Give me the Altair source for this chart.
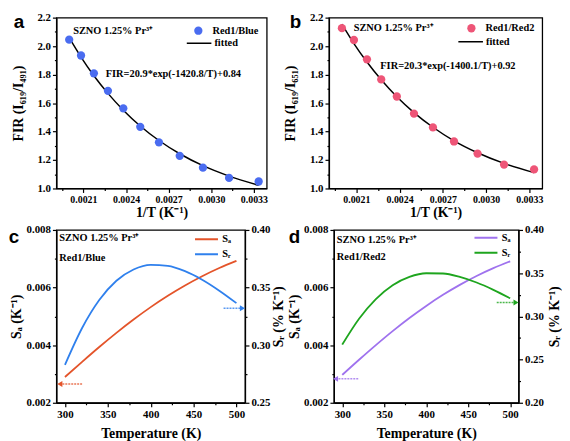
import altair as alt
import pandas as pd

# ---------------- data ----------------
temps = [300, 320, 340, 360, 380, 400, 420, 440, 460, 480, 500]

fir_red1_blue = [1.049, 1.074, 1.146, 1.229, 1.324, 1.433, 1.563, 1.686, 1.809, 1.934, 2.045]
fit_red1_blue = [1.023, 1.087, 1.160, 1.244, 1.337, 1.439, 1.550, 1.668, 1.792, 1.923, 2.059]
fir_red1_red2 = [1.134, 1.168, 1.245, 1.330, 1.429, 1.526, 1.646, 1.766, 1.907, 2.043, 2.126]
fit_red1_red2 = [1.111, 1.176, 1.251, 1.335, 1.430, 1.533, 1.644, 1.763, 1.888, 2.018, 2.154]

sa_red1_blue = [0.002895, 0.003421, 0.003935, 0.004427, 0.004890, 0.005321,
                0.005715, 0.006073, 0.006394, 0.006679, 0.006929]
sr_red1_blue = [0.2829, 0.3149, 0.3392, 0.3559, 0.3657, 0.3697,
                0.3688, 0.3642, 0.3568, 0.3473, 0.3365]
sa_red1_red2 = [0.002969, 0.003493, 0.004002, 0.004488, 0.004943, 0.005363,
                0.005747, 0.006093, 0.006402, 0.006674, 0.006912]
sr_red1_red2 = [0.2673, 0.2972, 0.3200, 0.3361, 0.3457, 0.3499,
                0.3496, 0.3457, 0.3392, 0.3307, 0.3209]

# tick values (major + minor)
inv_ticks = [0.00195, 0.0021, 0.00225, 0.0024, 0.00255, 0.0027, 0.00285, 0.0030, 0.00315, 0.0033]
fir_ticks = [1.0, 1.1, 1.2, 1.3, 1.4, 1.5, 1.6, 1.7, 1.8, 1.9, 2.0, 2.1, 2.2]
temp_ticks = [300, 325, 350, 375, 400, 425, 450, 475, 500]
sa_ticks = [0.002, 0.003, 0.004, 0.005, 0.006, 0.007, 0.008]
sr_ticks_c = [0.25, 0.275, 0.30, 0.325, 0.35, 0.375, 0.40]
sr_ticks_d = [0.20, 0.225, 0.25, 0.275, 0.30, 0.325, 0.35, 0.375, 0.40]

# axis arrows: tail T, head T, value
arrow_sa_c = [320, 294, 0.00265]
arrow_sr_c = [485, 507, 0.332]
arrow_sa_d = [319, 292, 0.00283]
arrow_sr_d = [484, 507, 0.316]

SERIF = "Liberation Serif"
SANS = "Liberation Sans"

C_BLUE_PT = "#4a6cf0"
C_PINK_PT = "#ee5577"
C_ORANGE = "#e4542a"
C_BLUE = "#2f80ed"
C_PURPLE = "#9f72ee"
C_GREEN = "#1ea51e"


def axis(values, test, fmt, title, orient, label_size=11, title_padding=4, **kw):
    return alt.Axis(
        values=values,
        labelExpr=f"({test}) ? format(datum.value, '{fmt}') : ''",
        tickSize={"condition": {"test": test, "value": 4}, "value": 2},
        title=title, orient=orient, labelFontSize=label_size,
        titlePadding=title_padding, labelOverlap=False, labelFlush=False,
        labelPadding=2, grid=False, **kw
    )


def text_layer(txt, x, y, size=10.5, font=SERIF, align="left"):
    return alt.Chart(pd.DataFrame({"t": [txt]})).mark_text(
        align=align, baseline="middle", font=font, fontWeight="bold",
        fontSize=size, color="black"
    ).encode(x=alt.value(x), y=alt.value(y), text="t:N")


T_INV = "abs(datum.value*10000/3 - round(datum.value*10000/3)) < 0.01"
T_FIR = "abs(datum.value*5 - round(datum.value*5)) < 0.01"
T_TEMP = "datum.value % 50 == 0"
T_SA = "abs(datum.value*500 - round(datum.value*500)) < 0.01"
T_SR = "abs(datum.value*20 - round(datum.value*20)) < 0.01"


def fir_panel(pts, fit, color, label, ytitle, formula, letter, width, height,
              leg_pt, leg_ln, szno_xy, formula_xy, letter_xy, ytp):
    df = pd.DataFrame({
        "inv": [1.0 / t for t in temps], "fir": pts, "fit": fit,
        "series": label, "fitname": "fitted",
    })
    xs = alt.Scale(domain=[0.00191, 0.00339], nice=False, zero=False)
    ys = alt.Scale(domain=[1.0, 2.2], nice=False, zero=False)
    xa = axis(inv_ticks, T_INV, ".4f", "1/T (K⁻¹)", "bottom", label_size=10, title_padding=1)
    ya = axis(fir_ticks, T_FIR, ".1f", ytitle, "left", title_padding=ytp)
    line = alt.Chart(df).mark_line(strokeWidth=1.5, interpolate="monotone").encode(
        x=alt.X("inv:Q", scale=xs, axis=xa),
        y=alt.Y("fit:Q", scale=ys, axis=ya),
        stroke=alt.Stroke("fitname:N", scale=alt.Scale(domain=["fitted"], range=["black"]),
                          legend=alt.Legend(orient="none", legendX=leg_ln[0], legendY=leg_ln[1],
                                            title=None, symbolType="stroke", symbolSize=620,
                                            symbolStrokeWidth=1.5, labelOffset=2, clipHeight=11)),
    )
    points = alt.Chart(df).mark_point(filled=True, size=70, opacity=1).encode(
        x=alt.X("inv:Q", scale=xs, axis=xa),
        y=alt.Y("fir:Q", scale=ys, axis=ya),
        color=alt.Color("series:N", scale=alt.Scale(domain=[label], range=[color]),
                        legend=alt.Legend(orient="none", legendX=leg_pt[0], legendY=leg_pt[1],
                                          title=None, symbolType="circle", symbolSize=70,
                                          symbolOpacity=1, labelOffset=9)),
    )
    return alt.layer(
        line, points,
        text_layer("SZNO 1.25% Pr³⁺", *szno_xy),
        text_layer(formula, *formula_xy),
        text_layer(letter, *letter_xy, size=19, font=SANS, align="center"),
    ).resolve_scale(color="independent", stroke="independent").properties(width=width, height=height)


def sens_panel(sa, sr, c_sa, c_sr, sr_dom, sr_ticks, label2, arr_sa, arr_sr,
               letter, width, height, leg_xy, letter_xy, txt_x, txt_y1, txt_y2, lt_pad, rt_pad):
    df_sa = pd.DataFrame({"T": temps, "sa": sa, "series": "Sₐ"})
    df_sr = pd.DataFrame({"T": temps, "sr": sr, "series": "Sᵣ"})
    xs = alt.Scale(domain=[290, 510], nice=False, zero=False)
    sa_s = alt.Scale(domain=[0.002, 0.008], nice=False, zero=False)
    sr_s = alt.Scale(domain=sr_dom, nice=False, zero=False)
    xa = axis(temp_ticks, T_TEMP, "d", "Temperature (K)", "bottom", title_padding=7)
    color = alt.Color("series:N", scale=alt.Scale(domain=["Sₐ", "Sᵣ"], range=[c_sa, c_sr]),
                      legend=alt.Legend(orient="none", legendX=leg_xy[0], legendY=leg_xy[1],
                                        title=None, symbolType="stroke", symbolSize=540,
                                        symbolStrokeWidth=2, labelOffset=3, rowPadding=4,
                                        clipHeight=11))
    sa_line = alt.Chart(df_sa).mark_line(strokeWidth=1.8, interpolate="monotone").encode(
        x=alt.X("T:Q", scale=xs, axis=xa),
        y=alt.Y("sa:Q", scale=sa_s,
                axis=axis(sa_ticks, T_SA, ".3f", "Sₐ (K⁻¹)", "left", title_padding=lt_pad)),
        color=color,
    )
    sr_line = alt.Chart(df_sr).mark_line(strokeWidth=1.8, interpolate="monotone").encode(
        x=alt.X("T:Q", scale=xs, axis=xa),
        y=alt.Y("sr:Q", scale=sr_s,
                axis=axis(sr_ticks, T_SR, ".2f", "Sᵣ (% K⁻¹)", "right", title_padding=rt_pad,
                          titleAngle=270, titleBaseline="top")),
        color=color,
    )
    df_asa = pd.DataFrame({"t1": [arr_sa[0]], "t2": [arr_sa[1]], "v": [arr_sa[2]]})
    df_asr = pd.DataFrame({"t1": [arr_sr[0]], "t2": [arr_sr[1]], "v": [arr_sr[2]]})
    sa_rule = alt.Chart(df_asa).mark_rule(color=c_sa, strokeWidth=1.5, strokeDash=[2, 1], opacity=0.8).encode(
        x=alt.X("t1:Q", scale=xs, axis=xa), x2="t2:Q", y=alt.Y("v:Q", scale=sa_s, axis=None))
    sa_head = alt.Chart(df_asa).mark_point(shape="triangle-left", filled=True, size=35, color=c_sa, opacity=1).encode(
        x=alt.X("t2:Q", scale=xs, axis=xa), y=alt.Y("v:Q", scale=sa_s, axis=None))
    sr_rule = alt.Chart(df_asr).mark_rule(color=c_sr, strokeWidth=1.5, strokeDash=[2, 1], opacity=0.8).encode(
        x=alt.X("t1:Q", scale=xs, axis=xa), x2="t2:Q", y=alt.Y("v:Q", scale=sr_s, axis=None))
    sr_head = alt.Chart(df_asr).mark_point(shape="triangle-right", filled=True, size=35, color=c_sr, opacity=1).encode(
        x=alt.X("t2:Q", scale=xs, axis=xa), y=alt.Y("v:Q", scale=sr_s, axis=None))
    return alt.layer(
        sa_line, sr_line, sa_rule, sa_head, sr_rule, sr_head,
        text_layer("SZNO 1.25% Pr³⁺", txt_x, txt_y1),
        text_layer(label2, txt_x, txt_y2),
        text_layer(letter, *letter_xy, size=19, font=SANS, align="center"),
    ).resolve_scale(y="independent").properties(width=width, height=height)


pa = fir_panel(fir_red1_blue, fit_red1_blue, C_BLUE_PT, "Red1/Blue", "FIR (I₆₁₉/I₄₉₁)",
               "FIR=20.9*exp(-1420.8/T)+0.84", "a", 213, 173,
               leg_pt=(138.5, 8), leg_ln=(131, 20.5), szno_xy=(17, 14),
               formula_xy=(50, 57), letter_xy=(-38, 5), ytp=12)
pb = fir_panel(fir_red1_red2, fit_red1_red2, C_PINK_PT, "Red1/Red2", "FIR (I₆₁₉/I₆₅₁)",
               "FIR=20.3*exp(-1400.1/T)+0.92", "b", 216, 173,
               leg_pt=(139, 5.5), leg_ln=(130, 19), szno_xy=(25, 11),
               formula_xy=(52, 49), letter_xy=(-34, 5), ytp=12)
pc = sens_panel(sa_red1_blue, sr_red1_blue, C_ORANGE, C_BLUE, [0.25, 0.40], sr_ticks_c,
                "Red1/Blue", arrow_sa_c, arrow_sr_c, "c", 191, 175,
                leg_xy=(139, 4), letter_xy=(-43, 7), txt_x=3, txt_y1=8.5, txt_y2=28.5,
                lt_pad=3, rt_pad=2)
pd_ = sens_panel(sa_red1_red2, sr_red1_red2, C_PURPLE, C_GREEN, [0.20, 0.40], sr_ticks_d,
                 "Red1/Red2", arrow_sa_d, arrow_sr_d, "d", 187, 175,
                 leg_xy=(141, 2.5), letter_xy=(-40, 7), txt_x=3, txt_y1=10, txt_y2=27.5,
                 lt_pad=2, rt_pad=4)

top = alt.hconcat(pa, pb, spacing=63, bounds="flush").resolve_scale(
    color="independent", stroke="independent")
bottom = alt.hconcat(pc, pd_, spacing=90, bounds="flush").resolve_scale(
    color="independent", stroke="independent")

chart = alt.vconcat(top, bottom, spacing=3).resolve_scale(
    color="independent", stroke="independent"
).properties(
    padding=0, background="white"
).configure_view(
    stroke="black", strokeWidth=1.3
).configure_axis(
    domainColor="black", domainWidth=1.3, tickColor="black", tickWidth=1.2,
    labelFont=SERIF, labelFontWeight="bold", labelColor="black",
    titleFont=SERIF, titleFontWeight="bold", titleFontSize=14, titleColor="black",
).configure_legend(
    labelFont=SERIF, labelFontWeight="bold", labelFontSize=10.5, labelColor="black",
    padding=0, rowPadding=2,
)

chart.save("out.html", embed_options={"renderer": "svg", "actions": False})
